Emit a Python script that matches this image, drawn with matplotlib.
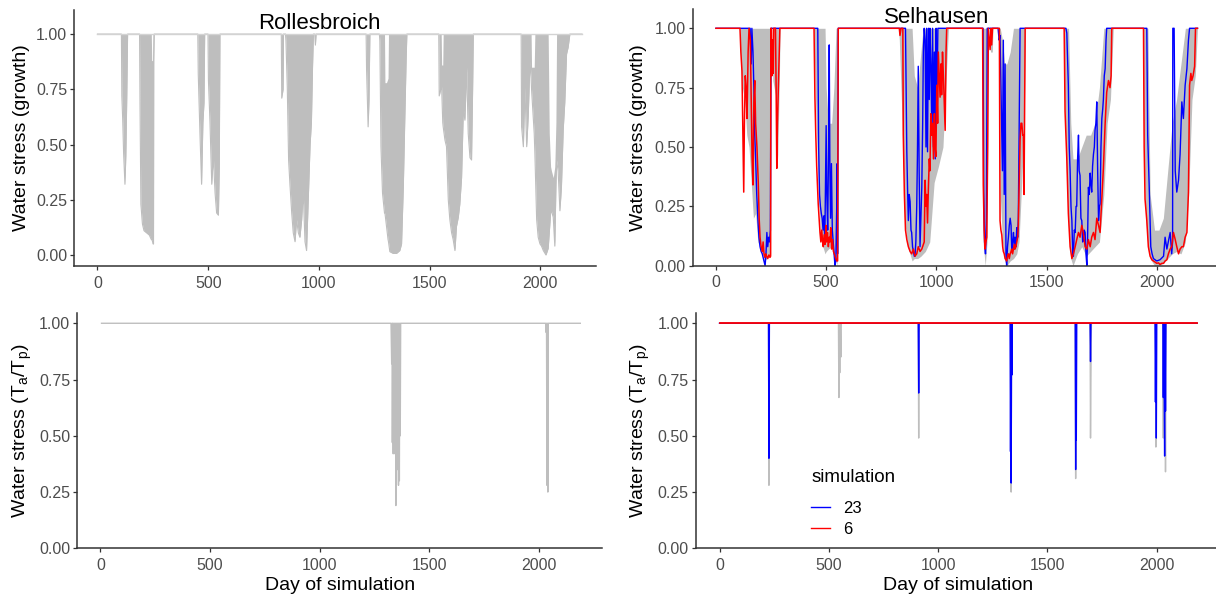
import numpy as np
import matplotlib
matplotlib.use("Agg")
import matplotlib.pyplot as plt
from matplotlib.lines import Line2D

plt.rcParams['font.family'] = ['Liberation Sans', 'DejaVu Sans']
plt.rcParams['mathtext.default'] = 'regular'

GRAY = '#BEBEBE'
TICKCOL = '#4D4D4D'
AXCOL = '#333333'

# ---------------- data ----------------
# Rollesbroich, growth stress: grey band of the simulations (day, low, high)
roll_growth_band = [
    (0, 1, 1), (108, 1, 1), (110, 0.72, 1), (114, 0.61, 1), (118, 0.46, 1), (124, 0.32, 1), (128, 0.45, 1),
    (132, 0.7, 1), (136, 1, 1),
    (190, 1, 1), (192, 0.69, 1), (196, 0.23, 1), (203, 0.14, 1), (210, 0.11, 1), (222, 0.10, 1),
    (234, 0.09, 1), (243, 0.07, 1), (245, 0.07, 0.88), (249, 0.06, 0.88), (251, 0.05, 1), (253, 0.05, 1),
    (254, 0.88, 1), (256, 1, 1),
    (453, 1, 1), (455, 0.82, 1), (463, 0.54, 1), (470, 0.32, 1), (476, 0.6, 1), (481, 0.69, 1), (484, 1, 1),
    (499, 1, 1), (501, 0.79, 1), (508, 0.6, 1), (516, 0.32, 1), (523, 0.45, 1), (531, 0.28, 1),
    (538, 0.19, 1), (546, 0.18, 1), (550, 0.4, 1), (553, 1, 1),
    (830, 1, 1), (832, 0.71, 1), (838, 0.75, 1), (840, 1, 1),
    (849, 1, 1), (851, 0.97, 1), (857, 0.76, 1), (863, 0.43, 1), (869, 0.32, 1), (877, 0.19, 1),
    (884, 0.1, 1), (892, 0.06, 1), (899, 0.16, 1), (907, 0.1, 1), (914, 0.08, 1), (922, 0.16, 1),
    (929, 0.29, 1), (937, 0.06, 1), (944, 0.02, 1), (950, 0.2, 1), (955, 0.35, 1), (960, 0.5, 1),
    (966, 0.6, 1), (971, 0.85, 1), (975, 1, 1),
    (981, 1, 1), (984, 0.95, 1), (987, 1, 1),
    (1213, 1, 1), (1215, 0.84, 1), (1222, 0.58, 1), (1226, 0.7, 1), (1230, 1, 1),
    (1273, 1, 1), (1275, 0.97, 1), (1280, 0.49, 1), (1287, 0.28, 1), (1296, 0.19, 1), (1298, 0.19, 0.78),
    (1305, 0.13, 0.78), (1312, 0.07, 0.8), (1314, 0.06, 1), (1320, 0.015, 1), (1335, 0.007, 1),
    (1350, 0.007, 1), (1365, 0.02, 1), (1373, 0.05, 1), (1381, 0.31, 1), (1388, 0.64, 1), (1394, 0.9, 1),
    (1397, 1, 1),
    (1541, 1, 1), (1543, 0.72, 1), (1552, 0.76, 1), (1554, 0.76, 0.86), (1559, 0.6, 0.86), (1561, 0.58, 1),
    (1569, 0.52, 1), (1576, 0.49, 1), (1584, 0.25, 1), (1591, 0.16, 1), (1599, 0.1, 1), (1606, 0.07, 1),
    (1614, 0.02, 1), (1621, 0.13, 1), (1629, 0.17, 1), (1636, 0.23, 1), (1644, 0.35, 1), (1652, 0.66, 1),
    (1659, 0.61, 1), (1667, 0.85, 1), (1674, 0.55, 1), (1682, 0.44, 1), (1689, 0.43, 1), (1694, 0.76, 1),
    (1697, 1, 1),
    (1913, 1, 1), (1915, 0.58, 1), (1923, 0.49, 1), (1930, 0.76, 1), (1938, 0.49, 1), (1945, 0.63, 1),
    (1953, 0.88, 1), (1958, 0.8, 1), (1960, 0.75, 0.85), (1972, 0.55, 0.85), (1975, 0.46, 1),
    (1983, 0.16, 1), (1990, 0.08, 1), (1998, 0.05, 1), (2005, 0.04, 1), (2013, 0.02, 1), (2025, 0.0, 1),
    (2035, 0.03, 1), (2040, 0.1, 0.55), (2046, 0.19, 0.4), (2050, 0.2, 0.38), (2058, 0.17, 0.35),
    (2065, 0.04, 0.4), (2070, 0.31, 0.6), (2073, 0.43, 1), (2080, 0.38, 1), (2088, 0.2, 1), (2095, 0.31, 1),
    (2103, 0.57, 1), (2110, 0.69, 1), (2118, 0.91, 1), (2125, 0.94, 1), (2133, 1, 1), (2188, 1, 1),
]

# Selhausen, growth stress: grey band of all simulations (day, low, high)
sel_growth_band = [
    (0, 1, 1), (110, 1, 1), (112, 0.85, 1), (120, 0.75, 1), (130, 0.7, 1), (140, 0.55, 1), (150, 0.5, 1),
    (160, 0.35, 1), (170, 0.2, 1), (180, 0.22, 1), (190, 0.1, 1), (200, 0.08, 1), (210, 0.05, 1),
    (220, 0.02, 1), (230, 0.03, 1), (240, 0.04, 1), (248, 0.05, 1), (250, 1, 1),
    (256, 1, 1), (258, 0.78, 1), (270, 0.72, 1), (280, 0.45, 1), (288, 0.8, 1), (291, 1, 1),
    (443, 1, 1), (446, 0.9, 1), (455, 0.6, 1), (465, 0.3, 1), (475, 0.12, 1), (485, 0.08, 1), (495, 0.05, 1),
    (500, 0.06, 0.75), (510, 0.07, 0.6), (525, 0.08, 0.6), (535, 0.04, 0.75), (545, 0.02, 1), (550, 0.0, 1),
    (555, 1, 1),
    (828, 1, 1), (832, 0.95, 1), (845, 0.6, 1), (855, 0.2, 1), (870, 0.08, 1), (890, 0.02, 1),
    (900, 0.03, 0.8), (915, 0.03, 0.75), (930, 0.04, 0.9), (940, 0.05, 1), (950, 0.06, 1), (970, 0.1, 1),
    (990, 0.35, 1), (1010, 0.42, 1), (1030, 0.5, 1), (1045, 0.8, 1), (1055, 1, 1),
    (1208, 1, 1), (1212, 0.1, 1), (1222, 0.0, 1), (1230, 0.1, 1), (1236, 0.9, 1), (1239, 1, 1),
    (1242, 1, 1), (1246, 0.9, 1), (1254, 0.9, 1), (1257, 1, 1),
    (1280, 1, 1), (1285, 0.9, 1), (1290, 0.3, 1), (1300, 0.1, 0.95), (1310, 0.02, 0.85), (1320, 0.0, 0.85),
    (1335, 0.02, 0.9), (1350, 0.03, 1), (1365, 0.05, 1), (1375, 0.1, 1), (1385, 0.3, 1), (1395, 0.5, 1),
    (1400, 0.7, 1), (1405, 1, 1),
    (1578, 1, 1), (1582, 0.7, 1), (1590, 0.4, 1), (1600, 0.15, 1), (1610, 0.03, 0.6), (1620, 0.0, 0.45),
    (1640, 0.05, 0.45), (1660, 0.08, 0.5), (1680, 0.04, 0.55), (1700, 0.06, 0.55), (1720, 0.08, 0.6),
    (1740, 0.1, 0.75), (1760, 0.3, 1), (1775, 0.6, 1), (1790, 0.7, 1), (1803, 1, 1),
    (1936, 1, 1), (1940, 0.55, 1), (1950, 0.2, 1), (1960, 0.08, 1), (1970, 0.03, 0.3), (1990, 0.0, 0.15),
    (2010, 0.0, 0.15), (2030, 0.01, 0.2), (2050, 0.03, 0.4), (2070, 0.05, 0.6), (2090, 0.06, 0.7),
    (2110, 0.05, 0.85), (2130, 0.1, 1), (2145, 0.3, 1), (2160, 0.7, 1), (2175, 0.8, 1), (2185, 1, 1),
]

# Selhausen, growth stress, simulation 23 (day, value)
sel_growth_sim23 = [
    (0, 1), (155, 1), (160, 0.85), (163, 1), (168, 0.9), (172, 0.75), (176, 0.55), (180, 0.45), (185, 0.3),
    (190, 0.2), (195, 0.12), (200, 0.08), (205, 0.06), (210, 0.05), (215, 0.03), (220, 0.01), (223, 0.0),
    (227, 0.05), (231, 0.14), (235, 0.08), (239, 0.12), (243, 0.1), (247, 0.15), (250, 1),
    (462, 1), (466, 0.5), (470, 0.3), (474, 0.25), (478, 0.22), (482, 0.2), (486, 0.15), (490, 0.21),
    (494, 0.1), (497, 0.35), (500, 0.59), (503, 0.3), (507, 0.15), (511, 0.5), (514, 0.93), (517, 0.4),
    (520, 0.2), (524, 0.43), (528, 0.15), (532, 0.1), (536, 0.05), (540, 0.0), (544, 0.02), (548, 0.25),
    (550, 0.43), (552, 0.05), (555, 1),
    (860, 1), (866, 0.48), (870, 0.3), (873, 0.19), (877, 0.3), (881, 0.27), (885, 0.15), (888, 0.14),
    (892, 0.08), (896, 0.06), (900, 0.04), (903, 0.04), (907, 0.1), (911, 0.25), (914, 0.45), (918, 0.84),
    (922, 0.4), (926, 0.08), (930, 0.2), (934, 0.33), (938, 0.6), (941, 0.9), (945, 1), (949, 0.95),
    (953, 0.5), (956, 1), (960, 0.48), (964, 1), (968, 0.7), (971, 1), (975, 0.85), (979, 0.6), (983, 1),
    (987, 0.5), (991, 0.9), (995, 0.45), (999, 1), (1003, 0.7), (1007, 1),
    (1212, 1), (1215, 0.31), (1219, 0.1), (1223, 0.05), (1227, 0.2), (1231, 1),
    (1280, 1), (1285, 0.95), (1289, 0.97), (1293, 0.76), (1297, 0.57), (1300, 0.4), (1304, 0.95),
    (1308, 0.3), (1312, 0.85), (1316, 0.05), (1319, 0.0), (1323, 0.08), (1327, 0.12), (1331, 0.17),
    (1335, 0.2), (1339, 0.17), (1342, 0.07), (1346, 0.1), (1350, 0.14), (1354, 0.07), (1357, 0.12),
    (1361, 0.08), (1365, 0.16), (1369, 0.12), (1372, 0.2), (1376, 0.6), (1380, 1),
    (1588, 1), (1592, 0.98), (1599, 0.76), (1603, 0.5), (1607, 0.4), (1611, 0.25), (1615, 0.19),
    (1619, 0.05), (1622, 0.04), (1626, 0.15), (1630, 0.14), (1634, 0.25), (1637, 0.25), (1641, 0.45),
    (1645, 0.55), (1648, 0.4), (1652, 0.38), (1656, 0.2), (1660, 0.19), (1664, 0.1), (1667, 0.11),
    (1671, 0.15), (1675, 0.14), (1679, 0.05), (1683, 0.0), (1686, 0.1), (1690, 0.33), (1694, 0.3),
    (1698, 0.39), (1701, 0.35), (1705, 0.31), (1709, 0.42), (1713, 0.47), (1717, 0.5), (1720, 0.57),
    (1724, 0.6), (1728, 0.69), (1732, 0.4), (1736, 0.19), (1740, 0.25), (1743, 0.26), (1747, 0.5),
    (1751, 0.62), (1755, 0.66), (1758, 0.7), (1762, 0.8), (1766, 0.83), (1770, 0.95), (1773, 1),
    (1950, 1), (1955, 1), (1959, 0.55), (1966, 0.33), (1973, 0.08), (1979, 0.05), (1985, 0.03),
    (2000, 0.02), (2015, 0.025), (2031, 0.04), (2038, 0.12), (2046, 0.07), (2061, 0.14), (2068, 0.05),
    (2072, 0.1), (2073, 1), (2079, 1), (2084, 0.4), (2091, 0.31), (2099, 0.36), (2106, 0.47), (2114, 0.69),
    (2121, 0.62), (2129, 0.76), (2137, 0.83), (2144, 0.95), (2149, 1), (2185, 1),
]

# Selhausen, growth stress, simulation 6 (day, value)
sel_growth_sim6 = [
    (0, 1), (109, 1), (113, 0.9), (118, 0.82), (122, 0.55), (126, 0.31), (129, 0.6), (133, 0.8), (137, 0.75),
    (141, 0.62), (146, 0.9), (150, 1), (156, 0.95), (160, 0.7), (164, 0.45), (168, 0.34), (172, 0.69),
    (176, 0.78), (180, 0.6), (186, 0.5), (192, 0.35), (196, 0.2), (200, 0.12), (205, 0.08), (210, 0.06),
    (214, 0.1), (218, 0.05), (222, 0.035), (226, 0.05), (230, 0.04), (235, 0.03), (240, 0.045),
    (245, 0.035), (248, 0.04), (249, 1), (252, 1), (254, 0.8), (257, 0.95), (260, 0.81), (262, 1),
    (270, 1), (273, 0.75), (276, 0.41), (279, 0.6), (282, 0.71), (286, 0.85), (290, 1),
    (445, 1), (449, 0.71), (453, 0.55), (457, 0.42), (461, 0.33), (464, 0.26), (468, 0.2), (472, 0.14),
    (476, 0.1), (480, 0.15), (484, 0.1), (487, 0.08), (491, 0.13), (495, 0.09), (499, 0.17), (502, 0.1),
    (506, 0.14), (510, 0.08), (514, 0.12), (517, 0.1), (521, 0.16), (525, 0.07), (529, 0.11), (533, 0.06),
    (537, 0.05), (540, 0.04), (544, 0.03), (548, 0.02), (552, 0.02), (555, 1),
    (832, 1), (835, 0.97), (840, 1), (848, 1), (850, 0.55), (855, 0.3), (860, 0.15), (866, 0.11),
    (873, 0.08), (881, 0.06), (888, 0.05), (896, 0.07), (903, 0.04), (911, 0.05), (918, 0.08), (926, 0.06),
    (934, 0.07), (941, 0.09), (945, 0.1), (949, 0.36), (953, 0.25), (956, 0.3), (960, 0.18), (964, 0.33),
    (968, 0.45), (971, 0.4), (975, 0.64), (979, 0.55), (983, 0.6), (987, 0.45), (991, 0.64), (994, 0.5),
    (998, 0.46), (1002, 0.76), (1006, 0.6), (1009, 0.9), (1013, 0.8), (1017, 0.71), (1021, 0.85),
    (1024, 0.72), (1028, 0.9), (1032, 0.8), (1036, 0.68), (1040, 0.57), (1044, 0.9), (1047, 1),
    (1210, 1), (1213, 0.34), (1217, 0.15), (1221, 0.07), (1225, 0.1), (1229, 0.12), (1233, 0.5), (1236, 1),
    (1244, 0.91), (1248, 1), (1251, 0.93), (1255, 1),
    (1286, 1), (1289, 0.19), (1293, 0.15), (1297, 0.13), (1301, 0.08), (1304, 0.06), (1308, 0.05),
    (1312, 0.03), (1316, 0.025), (1319, 0.02), (1323, 0.04), (1327, 0.05), (1331, 0.03), (1335, 0.05),
    (1339, 0.06), (1342, 0.07), (1346, 0.05), (1350, 0.07), (1354, 0.09), (1357, 0.07), (1361, 0.08),
    (1365, 0.1), (1369, 0.12), (1372, 0.17), (1376, 0.35), (1380, 0.53), (1384, 0.6), (1388, 0.6),
    (1392, 0.55), (1395, 0.55), (1398, 0.3), (1400, 0.58), (1403, 1),
    (1580, 1), (1584, 0.65), (1592, 0.45), (1599, 0.22), (1607, 0.08), (1615, 0.03), (1622, 0.05),
    (1630, 0.08), (1637, 0.11), (1645, 0.14), (1652, 0.12), (1660, 0.17), (1667, 0.14), (1675, 0.08),
    (1683, 0.07), (1690, 0.11), (1698, 0.08), (1705, 0.12), (1713, 0.14), (1720, 0.11), (1728, 0.2),
    (1736, 0.17), (1743, 0.14), (1751, 0.28), (1758, 0.41), (1766, 0.6), (1773, 0.73), (1781, 0.78),
    (1788, 0.75), (1793, 0.8), (1796, 1),
    (1940, 1), (1943, 0.5), (1947, 0.28), (1955, 0.19), (1962, 0.08), (1970, 0.04), (1978, 0.025),
    (1985, 0.02), (1993, 0.015), (2000, 0.01), (2008, 0.012), (2015, 0.005), (2023, 0.01), (2031, 0.01),
    (2038, 0.02), (2046, 0.025), (2053, 0.05), (2061, 0.07), (2068, 0.08), (2076, 0.14), (2084, 0.11),
    (2091, 0.08), (2099, 0.05), (2106, 0.07), (2114, 0.08), (2121, 0.08), (2129, 0.12), (2137, 0.14),
    (2144, 0.31), (2149, 0.76), (2155, 0.81), (2159, 0.78), (2165, 0.8), (2172, 0.84), (2176, 1), (2185, 1),
]

# Rollesbroich, Ta/Tp (grey simulations)
roll_tatp = [
    (5, 1), (1325, 1), (1328, 0.82), (1330, 1), (1331, 0.47), (1333, 1), (1335, 0.42), (1337, 1),
    (1339, 0.47), (1341, 1), (1343, 0.42), (1345, 1), (1347, 0.19), (1349, 1), (1351, 0.47), (1353, 1),
    (1355, 0.35), (1357, 1), (1359, 0.28), (1361, 1), (1363, 0.3), (1365, 1), (1367, 0.5), (1369, 1),
    (2030, 1), (2032, 0.96), (2034, 1), (2036, 0.28), (2038, 1), (2040, 0.25), (2042, 1), (2188, 1),
]

# Selhausen, Ta/Tp
sel_tatp_gray = [
    (0, 1), (224, 1), (226, 0.28), (228, 1), (544, 1), (546, 0.67), (548, 1), (550, 0.78), (552, 1),
    (555, 0.85), (557, 1), (909, 1), (911, 0.49), (913, 1), (1332, 1), (1334, 0.25), (1336, 1),
    (1627, 1), (1629, 0.31), (1631, 1), (1695, 1), (1697, 0.49), (1699, 0.77), (1701, 1),
    (1994, 1), (1996, 0.45), (1998, 1), (2028, 1), (2030, 0.49), (2032, 1), (2038, 1), (2040, 0.34),
    (2042, 1), (2185, 1),
]
sel_tatp_sim23 = [
    (0, 1), (224, 1), (226, 0.40), (228, 1), (909, 1), (911, 0.69), (913, 1), (1329, 1), (1331, 0.43),
    (1333, 1), (1334, 0.29), (1336, 1), (1337, 0.77), (1339, 1), (1627, 1), (1629, 0.35), (1631, 1),
    (1632, 0.48), (1634, 1), (1695, 1), (1697, 0.83), (1699, 1), (1992, 1), (1994, 0.65), (1996, 1),
    (1998, 0.49), (2000, 1), (2028, 1), (2030, 0.67), (2032, 1), (2036, 0.41), (2038, 1), (2040, 0.61),
    (2042, 1), (2185, 1),
]
sel_tatp_sim6 = [(0, 1), (2185, 1)]

x_ticks = [0, 500, 1000, 1500, 2000]
y_ticks = [0, 0.25, 0.5, 0.75, 1.0]
y_ticklabels = ['0.00', '0.25', '0.50', '0.75', '1.00']


def xy(pts):
    arr = np.array(pts, dtype=float)
    return arr[:, 0], arr[:, 1]


def style(ax, xlim, ylim):
    ax.set_xlim(*xlim)
    ax.set_ylim(*ylim)
    for s in ['top', 'right']:
        ax.spines[s].set_visible(False)
    for s in ['left', 'bottom']:
        ax.spines[s].set_color(AXCOL)
        ax.spines[s].set_linewidth(1.1)
    ax.set_xticks(x_ticks)
    ax.set_yticks(y_ticks)
    ax.set_yticklabels(y_ticklabels)
    ax.tick_params(axis='both', colors=AXCOL, labelcolor=TICKCOL, labelsize=11.5, length=3, width=0.9)
    ax.tick_params(axis='x', pad=4)
    ax.tick_params(axis='y', pad=2)


W, H = 1216, 600
fig = plt.figure(figsize=(W / 100, H / 100), dpi=100)


def add_ax(left, right, top, bottom):
    return fig.add_axes([left / W, (H - bottom) / H, (right - left) / W, (bottom - top) / H])


# top left: Rollesbroich growth
ax1 = add_ax(74, 596, 10, 266)
arr = np.array(roll_growth_band, dtype=float)
ax1.fill_between(arr[:, 0], arr[:, 1], arr[:, 2], color=GRAY, lw=0)
ax1.plot(arr[:, 0], arr[:, 1], color=GRAY, lw=0.8)
ax1.plot([0, 2188], [1, 1], color='#D3D3D3', lw=1.0)
ax1.text(1000, 1.05, 'Rollesbroich', ha='center', va='center', fontsize=16)
style(ax1, (-106, 2251), (-0.05, 1.109))
ax1.set_ylabel('Water stress (growth)', fontsize=14, va='center')
ax1.yaxis.set_label_coords(-0.1015, 0.5)

# top right: Selhausen growth
ax2 = add_ax(692.6, 1216, 9.3, 265.7)
arr = np.array(sel_growth_band, dtype=float)
ax2.fill_between(arr[:, 0], arr[:, 1], arr[:, 2], color=GRAY, lw=0)
d, v = xy(sel_growth_sim23)
ax2.plot(d, v, color='blue', lw=1.0)
d, v = xy(sel_growth_sim6)
ax2.plot(d, v, color='red', lw=1.1)
ax2.text(1000, 1.045, 'Selhausen', ha='center', va='center', fontsize=16, clip_on=False)
style(ax2, (-106, 2269), (0, 1.08))
ax2.set_ylabel('Water stress (growth)', fontsize=14, va='center')
ax2.yaxis.set_label_coords(-0.104, 0.5)

tatp_label = 'Water stress (T$_a$/T$_p$)'

# bottom left: Rollesbroich Ta/Tp
ax3 = add_ax(77.2, 602, 312.7, 548.3)
d, v = xy(roll_tatp)
ax3.plot(d, v, color=GRAY, lw=1.0)
style(ax3, (-106, 2287), (0, 1.047))
ax3.set_ylabel(tatp_label, fontsize=14, va='center')
ax3.yaxis.set_label_coords(-0.105, 0.5)
ax3.set_xlabel('Day of simulation', fontsize=14, va='center')
ax3.xaxis.set_label_coords(0.5, -0.156)

# bottom right: Selhausen Ta/Tp
ax4 = add_ax(695.7, 1216, 312.7, 548.3)
d, v = xy(sel_tatp_gray)
ax4.plot(d, v, color=GRAY, lw=1.0)
d, v = xy(sel_tatp_sim23)
ax4.plot(d, v, color='blue', lw=1.0)
d, v = xy(sel_tatp_sim6)
ax4.plot(d, v, color='red', lw=1.3)
style(ax4, (-109, 2271), (0, 1.047))
ax4.set_ylabel(tatp_label, fontsize=14, va='center')
ax4.yaxis.set_label_coords(-0.107, 0.5)
ax4.set_xlabel('Day of simulation', fontsize=14, va='center')
ax4.xaxis.set_label_coords(0.504, -0.156)

handles = [Line2D([], [], color='blue', lw=1.0), Line2D([], [], color='red', lw=1.0)]
leg = ax4.legend(handles, ['23', '6'], title='simulation\n', loc='upper left', bbox_to_anchor=(0.222, 0.3365),
                 frameon=False, alignment='left', fontsize=12, title_fontsize=13.5,
                 handlelength=1.1, handletextpad=0.8, labelspacing=0.35, borderpad=0, borderaxespad=0)
leg.get_title().set_linespacing(0.42)

fig.savefig('out.png', dpi=100)
